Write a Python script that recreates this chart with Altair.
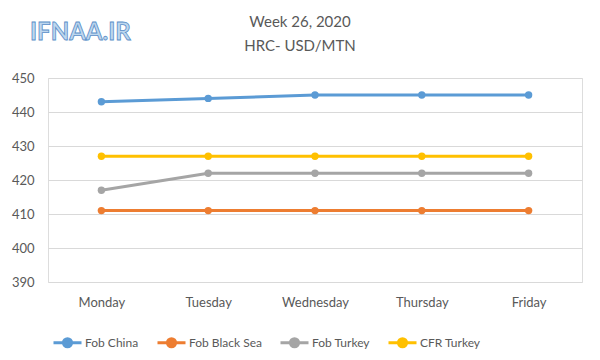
import altair as alt
import pandas as pd

days = ["Monday", "Tuesday", "Wednesday", "Thursday", "Friday"]
series = ["Fob China", "Fob Black Sea", "Fob Turkey", "CFR Turkey"]
fob_china = [443, 444, 445, 445, 445]
fob_black_sea = [411, 411, 411, 411, 411]
fob_turkey = [417, 422, 422, 422, 422]
cfr_turkey = [427, 427, 427, 427, 427]
colors = ["#5B9BD5", "#ED7D31", "#A5A5A5", "#FFC000"]
y_ticks = [390, 400, 410, 420, 430, 440, 450]
title_lines = ["Week 26, 2020", "HRC- USD/MTN"]
watermark_text = "IFNAA.IR"

rows = []
for name, vals in zip(series, [fob_china, fob_black_sea, fob_turkey, cfr_turkey]):
    for d, v in zip(days, vals):
        rows.append({"day": d, "series": name, "value": v})
df = pd.DataFrame(rows)

FONT = "Lato"
TXT = "#595959"

sym_path = ("M -1 0 L 1 0 M -0.29 0 A 0.29 0.29 0 1 1 0.29 0 "
            "A 0.29 0.29 0 1 1 -0.29 0 Z")

x = alt.X("day:N", sort=days, title=None,
          scale=alt.Scale(padding=0.5),
          axis=alt.Axis(labelAngle=0, domain=False, ticks=False, labelPadding=14,
                        labelFontSize=13, labelColor=TXT, labelFont=FONT))
y = alt.Y("value:Q", title=None,
          scale=alt.Scale(domain=[390, 450], nice=False, zero=False),
          axis=alt.Axis(values=y_ticks, domain=False, ticks=False, labelPadding=14,
                        labelFontSize=13, labelColor=TXT, labelFont=FONT,
                        gridColor="#D9D9D9", gridWidth=1))
legend = alt.Legend(title=None, orient="none", direction="horizontal",
                    legendX=4, legendY=249,
                    symbolType=sym_path, symbolSize=784,
                    symbolStrokeWidth=3, columnPadding=12,
                    labelOffset=2, labelFontSize=12,
                    labelColor=TXT, labelFont=FONT)
color = alt.Color("series:N", sort=series,
                  scale=alt.Scale(domain=series, range=colors), legend=legend)

lines = alt.Chart(df).mark_line(strokeWidth=3).encode(x=x, y=y, color=color)
points = alt.Chart(df).mark_point(filled=True, size=55, opacity=1).encode(
    x=x, y=y, color=color)

wm_df = pd.DataFrame({"t": [watermark_text]})
watermark = alt.Chart(wm_df).mark_text(
    align="left", baseline="middle", font=FONT, fontSize=24, fontWeight="bold",
    fill="#BDD7EE", stroke="#5B8FC9", strokeWidth=0.8
).encode(text="t:N", x=alt.value(-18), y=alt.value(-45))

t1 = alt.Chart(pd.DataFrame({"t": [title_lines[0]]})).mark_text(
    align="center", baseline="middle", font=FONT, fontSize=15, color=TXT
).encode(text="t:N", x=alt.value(252), y=alt.value(-56))
t2 = alt.Chart(pd.DataFrame({"t": [title_lines[1]]})).mark_text(
    align="center", baseline="middle", font=FONT, fontSize=15, color=TXT
).encode(text="t:N", x=alt.value(252), y=alt.value(-32))

chart = alt.layer(lines, points, watermark, t1, t2).properties(
    width=534, height=204,
    autosize=alt.AutoSizeParams(type="none"),
    padding={"left": 40, "top": 70, "right": 10, "bottom": 70},
).configure_view(stroke=None).configure(background="white")

chart.save("out.html", embed_options={"renderer": "svg", "actions": False})
